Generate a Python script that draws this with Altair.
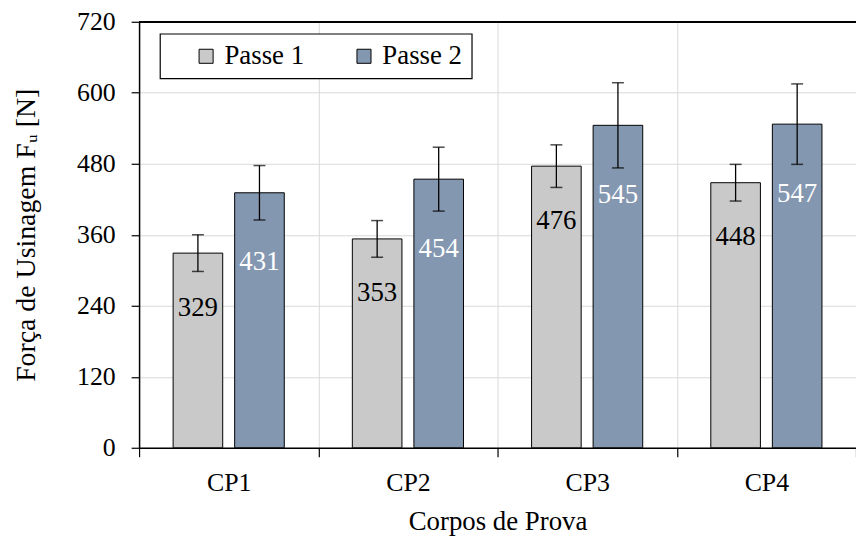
import altair as alt
import pandas as pd

cps = ["CP1", "CP2", "CP3", "CP4"]
series = ["Passe 1", "Passe 2"]
passe1 = [329, 353, 476, 448]
passe2 = [431, 454, 545, 547]
err1 = [31, 31, 36, 31]
err2 = [46, 54, 72, 68]
y_ticks = [0, 120, 240, 360, 480, 600, 720]

rows = []
for i, cp in enumerate(cps):
    rows.append({"cp": cp, "serie": series[0], "valor": passe1[i],
                 "lo": passe1[i] - err1[i], "hi": passe1[i] + err1[i]})
    rows.append({"cp": cp, "serie": series[1], "valor": passe2[i],
                 "lo": passe2[i] - err2[i], "hi": passe2[i] + err2[i]})
df = pd.DataFrame(rows)

FONT = "Times New Roman"
W, H = 722, 429

xenc = alt.X("cp:N", sort=cps,
             scale=alt.Scale(paddingInner=0, paddingOuter=0),
             axis=alt.Axis(title="Corpos de Prova", tickBand="extent", grid=True,
                           labelAngle=0, labelPadding=13, titlePadding=13,
                           tickSize=9))
xoff = alt.XOffset("serie:N", sort=series,
                   scale=alt.Scale(paddingInner=0.194, paddingOuter=0.553))
yscale = alt.Scale(domain=[0, 720], nice=False)

base = alt.Chart(df).encode(x=xenc, xOffset=xoff)

bars = base.mark_bar(stroke="black", strokeWidth=1).encode(
    y=alt.Y("valor:Q", scale=yscale,
            axis=alt.Axis(values=y_ticks, title="Força de Usinagem Fᵤ [N]",
                          tickSize=8, labelPadding=16, titlePadding=36,
                          titleFontSize=28)),
    color=alt.Color("serie:N", sort=series,
                    scale=alt.Scale(domain=series, range=["#c9c9c9", "#8497b0"]),
                    legend=alt.Legend(title=None, orient="none", legendX=21, legendY=12,
                                      direction="horizontal",
                                      labelExpr="datum.label + '\u00a0\u00a0'")),
)

rules = base.mark_rule(color="black", strokeWidth=1.3).encode(
    y=alt.Y("lo:Q", scale=yscale), y2="hi:Q")
cap_hi = base.mark_tick(color="black", thickness=1.5, size=12, orient="horizontal").encode(
    y=alt.Y("hi:Q", scale=yscale))
cap_lo = base.mark_tick(color="black", thickness=1.5, size=12, orient="horizontal").encode(
    y=alt.Y("lo:Q", scale=yscale))

lab1 = base.transform_filter(alt.datum.serie == "Passe 1").mark_text(
    baseline="middle", dy=55, fontSize=27, font=FONT, color="black").encode(
    y=alt.Y("valor:Q", scale=yscale), text="valor:Q")
lab2 = base.transform_filter(alt.datum.serie == "Passe 2").mark_text(
    baseline="middle", dy=70, fontSize=27, font=FONT, color="white").encode(
    y=alt.Y("valor:Q", scale=yscale), text="valor:Q")

top = alt.Chart(df).mark_rule(color="black", strokeWidth=1.5).encode(
    x=alt.value(0), x2=alt.value(W), y=alt.value(0))

chart = alt.layer(bars, rules, cap_hi, cap_lo, lab1, lab2, top).properties(
    width=W, height=H,
    autosize=alt.AutoSizeParams(type="none"),
    padding={"left": 132, "top": 12, "right": 0, "bottom": 90},
).configure(font=FONT).configure_view(stroke=None).configure_text(
    font=FONT
).configure_axis(
    labelFont=FONT, titleFont=FONT, labelFontSize=26, titleFontSize=27,
    labelColor="black", titleColor="black", titleFontWeight="normal",
    domainColor="black", domainWidth=1.5, tickColor="black", tickWidth=1.2,
    gridColor="#d9d9d9", gridWidth=1,
).configure_legend(
    labelFont=FONT, labelFontSize=27, labelColor="black",
    fillColor="white", strokeColor="black", strokeWidth=1.2,
    padding=9, symbolType="square", symbolSize=200,
    symbolStrokeColor="black", symbolStrokeWidth=1,
    columnPadding=22, labelOffset=5, symbolOffset=24,
)

chart.save("out.html", embed_options={"renderer": "svg", "actions": False})
